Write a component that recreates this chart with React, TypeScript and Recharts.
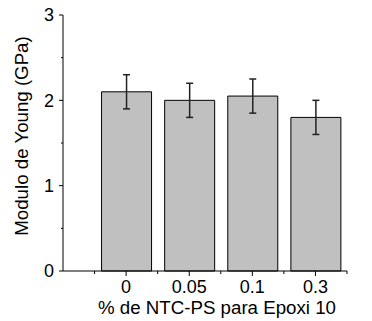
import { Bar, BarChart, ErrorBar, XAxis, YAxis } from "recharts";

// % de NTC-PS (categories) placed at positions 1..4 on a numeric axis
const categories = ["0", "0.05", "0.1", "0.3"];
const positions = [1, 2, 3, 4];
const modulus = [2.1, 2.0, 2.05, 1.8];
const modulusError = [0.2, 0.2, 0.2, 0.2];

const xTicks = [0.5, 1, 1.5, 2, 2.5, 3, 3.5, 4, 4.5];
const yTicks = [0, 0.5, 1, 1.5, 2, 2.5, 3];

const FONT = '"Liberation Sans", Arial, sans-serif';

const data = positions.map((pos, i) => ({
  pos,
  label: categories[i],
  modulus: modulus[i],
  err: modulusError[i]
}));

function XTick({ x, y, payload }: any) {
  const idx = positions.indexOf(payload.value);
  const major = idx >= 0;
  return (
    <g>
      <line x1={x} x2={x} y1={y} y2={y + (major ? 5 : 3)} stroke="#000" strokeWidth={1} />
      {major && (
        <text x={x} y={y + 22} textAnchor="middle" fontSize={18} fontFamily={FONT} fill="#000">
          {categories[idx]}
        </text>
      )}
    </g>
  );
}

function YTick({ x, y, payload }: any) {
  const major = Number.isInteger(payload.value);
  return (
    <g>
      <line x1={x - (major ? 4 : 2)} x2={x} y1={y} y2={y} stroke="#000" strokeWidth={1} />
      {major && (
        <text x={x - 9} y={y} dy="0.355em" textAnchor="end" fontSize={18} fontFamily={FONT} fill="#000">
          {payload.value}
        </text>
      )}
    </g>
  );
}

export default function App() {
  return (
    <div style={{ position: "absolute", left: 0, top: 0, width: 372, height: 321, background: "#fff" }}>
      <BarChart width={372} height={321} data={data} margin={{ top: 15, right: 25, bottom: 0, left: 0 }}>
        <XAxis
          dataKey="pos"
          type="number"
          domain={[0, 4.5]}
          ticks={xTicks}
          interval={0}
          tickSize={0}
          tickMargin={0}
          tickLine={false}
          tick={<XTick />}
          height={50}
          axisLine={{ stroke: "#000", strokeWidth: 1 }}
          label={{
            content: () => (
              <text x={217} y={314} textAnchor="middle" fontSize={18.7} fontFamily={FONT} fill="#000">
                % de NTC-PS para Epoxi 10
              </text>
            )
          }}
        />
        <YAxis
          type="number"
          domain={[0, 3]}
          ticks={yTicks}
          interval={0}
          width={63}
          tickSize={0}
          tickMargin={0}
          tickLine={false}
          tick={<YTick />}
          axisLine={{ stroke: "#000", strokeWidth: 1 }}
          label={{
            content: () => (
              <text
                x={28}
                y={136}
                textAnchor="middle"
                fontSize={18.7}
                fontFamily={FONT}
                fill="#000"
                transform="rotate(-90, 28, 136)"
              >
                Modulo de Young (GPa)
              </text>
            )
          }}
        />
        <Bar dataKey="modulus" fill="#c0c0c0" stroke="#000" strokeWidth={1} barSize={50} isAnimationActive={false}>
          <ErrorBar dataKey="err" width={3.5} stroke="#222" strokeWidth={1.5} direction="y" />
        </Bar>
      </BarChart>
    </div>
  );
}
